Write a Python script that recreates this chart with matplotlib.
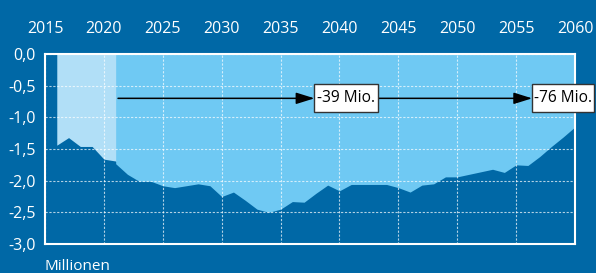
import numpy as np
import matplotlib
matplotlib.use('Agg')
import matplotlib.pyplot as plt
from matplotlib.patches import Rectangle

plt.rcParams['font.family'] = ['Open Sans', 'DejaVu Sans']

# data: yearly change (millions)
years = np.arange(2016, 2061)
values = np.array([
    -1.44, -1.32, -1.46, -1.46, -1.66, -1.69, -1.90, -2.01, -2.01, -2.08,
    -2.11, -2.08, -2.05, -2.08, -2.25, -2.18, -2.31, -2.45, -2.50, -2.45,
    -2.33, -2.34, -2.20, -2.07, -2.16, -2.06, -2.06, -2.06, -2.06, -2.11,
    -2.18, -2.07, -2.05, -1.94, -1.94, -1.90, -1.86, -1.82, -1.87, -1.75,
    -1.76, -1.62, -1.46, -1.31, -1.15,
])
x_ticks = [2015, 2020, 2025, 2030, 2035, 2040, 2045, 2050, 2055, 2060]
y_ticks = [0.0, -0.5, -1.0, -1.5, -2.0, -2.5, -3.0]
y_tick_labels = ['0,0', '-0,5', '-1,0', '-1,5', '-2,0', '-2,5', '-3,0']
box_labels = ['-39 Mio.', '-76 Mio.']

SPLIT_YEAR = 2021.2
ARROW_Y = -0.70
# label boxes: (left, right) in years
BOXES = [(2037.88, 2043.3), (2056.36, 2061.6)]
BOX_HALF = 0.22

BG = '#0068a6'
PALE = '#b1dff7'
LIGHT = '#6fc9f3'

fig = plt.figure(figsize=(5.96, 2.73), dpi=100, facecolor=BG)
ax = fig.add_axes([45/596, 1-244/273, 530/596, 190/273])
ax.set_facecolor(BG)

# pale part up to the split year, lighter blue afterwards
split_val = np.interp(SPLIT_YEAR, years, values)
m1 = years < SPLIT_YEAR
x1 = np.append(years[m1], SPLIT_YEAR)
y1 = np.append(values[m1], split_val)
x2 = np.insert(years[~m1], 0, SPLIT_YEAR)
y2 = np.insert(values[~m1], 0, split_val)
ax.fill_between(x1, y1, 0, color=PALE, lw=0)
ax.fill_between(x2, y2, 0, color=LIGHT, lw=0)

ax.set_xlim(2015, 2060)
ax.set_ylim(-3.0, 0.0)

ax.xaxis.tick_top()
ax.set_xticks(x_ticks)
ax.set_yticks(y_ticks)
ax.set_yticklabels(y_tick_labels)
ax.tick_params(axis='x', length=0, pad=12.5, labelsize=11.5, colors='white')
ax.tick_params(axis='y', length=0, pad=6.5, labelsize=11.5, colors='white')

ax.set_axisbelow(False)
ax.grid(True, color='white', lw=0.8, alpha=0.7, linestyle=(0, (2, 1.5)))
for s in ax.spines.values():
    s.set_color('white')
    s.set_linewidth(1.5)

# arrows with labelled boxes
arrow_props = dict(arrowstyle='-|>,head_length=0.8,head_width=0.25',
                   mutation_scale=14, color='black', lw=1.1,
                   shrinkA=0, shrinkB=0)
ax.annotate('', xy=(BOXES[0][0], ARROW_Y), xytext=(SPLIT_YEAR, ARROW_Y),
            arrowprops=arrow_props, zorder=5)
ax.annotate('', xy=(BOXES[1][0], ARROW_Y), xytext=(BOXES[0][1], ARROW_Y),
            arrowprops=arrow_props, zorder=5)
for (x0, x1b), lab in zip(BOXES, box_labels):
    ax.add_patch(Rectangle((x0, ARROW_Y - BOX_HALF), x1b - x0, 2 * BOX_HALF,
                           facecolor='white', edgecolor='#333333', lw=1,
                           zorder=6, clip_on=False))
    ax.text((x0 + x1b) / 2, ARROW_Y, lab, ha='center', va='center',
            fontsize=11.2, color='black', zorder=7, clip_on=False)

fig.text(45/596, 1-270/273, 'Millionen', color='white', fontsize=11,
         ha='left', va='baseline')

fig.savefig('out.png', dpi=100, facecolor=BG)
